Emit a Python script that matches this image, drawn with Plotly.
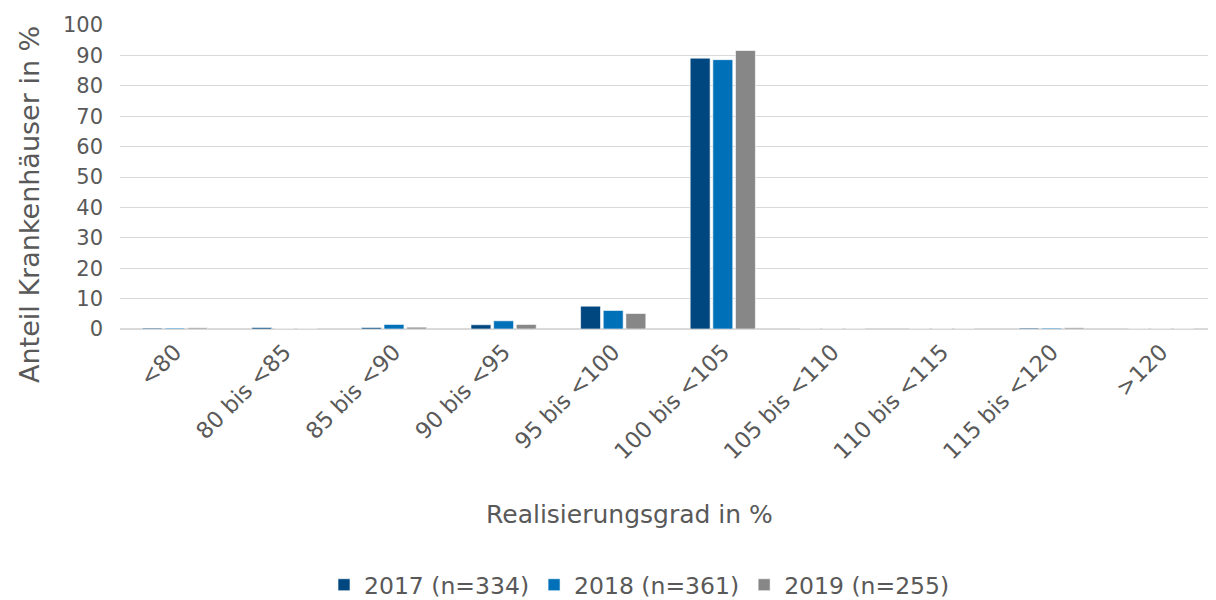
import plotly.graph_objects as go

categories = ["<80", "80 bis <85", "85 bis <90", "90 bis <95", "95 bis <100",
              "100 bis <105", "105 bis <110", "110 bis <115", "115 bis <120", ">120"]

series_names = ["2017 (n=334)", "2018 (n=361)", "2019 (n=255)"]
values_2017 = [0.3, 0.5, 0.5, 1.4, 7.5, 89.1, 0, 0, 0.3, 0]
values_2018 = [0.3, 0, 1.5, 2.7, 6.1, 88.6, 0, 0, 0.3, 0]
values_2019 = [0.4, 0, 0.6, 1.5, 5.1, 91.6, 0, 0, 0.4, 0]

colors = ["#00467F", "#0070B8", "#878787"]
font = "DejaVu Sans, sans-serif"
grey = "#595959"

fig = go.Figure()
for name, vals, col in zip(series_names, [values_2017, values_2018, values_2019], colors):
    fig.add_trace(go.Bar(
        x=categories, y=vals, name=name,
        marker=dict(color=col, line=dict(color="rgba(255,255,255,0.6)", width=1)),
    ))

# page body has an 8px margin, so the figure is shifted by 8px
fig.update_layout(
    width=1208, height=592,
    barmode="group", bargap=0.38, bargroupgap=0.12,
    plot_bgcolor="white", paper_bgcolor="white",
    margin=dict(l=112, r=0, t=17, b=271, autoexpand=False),
    font=dict(family=font, size=21, color=grey),
    xaxis=dict(
        tickangle=-45, tickfont=dict(size=22.5, color=grey),
        showline=True, linecolor="#d9d9d9", ticks="",
    ),
    yaxis=dict(
        range=[0, 100], dtick=10, tickfont=dict(size=21, color=grey),
        gridcolor="#d9d9d9", zeroline=True, zerolinecolor="#d9d9d9",
        ticklabelstandoff=16,
    ),
    legend=dict(orientation="h", xref="paper", yref="paper",
                x=0.474, xanchor="center", y=-0.842, yanchor="middle",
                font=dict(size=23.5, color=grey), itemwidth=30, tracegroupgap=0),
)

# axis titles as annotations (they sit off-centre in the original)
fig.add_annotation(text="Realisierungsgrad in %", xref="paper", yref="paper",
                   x=0.465, y=-0.61, xanchor="center", yanchor="middle",
                   showarrow=False, font=dict(size=25, color=grey))
fig.add_annotation(text="Anteil Krankenhäuser in %", xref="paper", yref="paper",
                   x=0, xshift=-90, y=0.408, xanchor="center", yanchor="middle",
                   textangle=-90, showarrow=False, font=dict(size=27, color=grey))

fig.write_html("out.html")
